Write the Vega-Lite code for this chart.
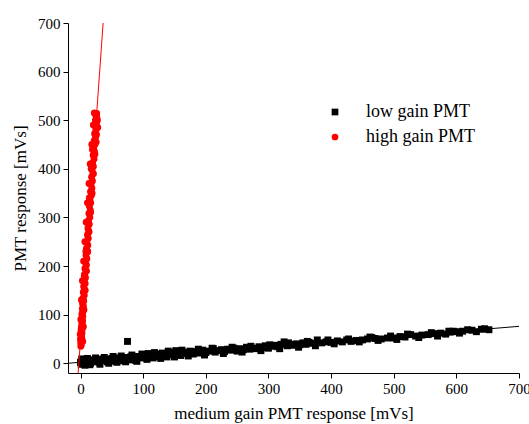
{
  "$schema": "https://vega.github.io/schema/vega-lite/v6.json",
  "width": 451,
  "height": 350,
  "autosize": {"type": "none"},
  "padding": {"left": 68, "top": 23, "right": 10, "bottom": 51},
  "background": "white",
  "config": {
    "view": {"stroke": null},
    "font": "Liberation Serif",
    "axis": {
      "domainColor": "black",
      "tickColor": "black",
      "grid": false,
      "labelFont": "Liberation Serif",
      "titleFont": "Liberation Serif",
      "labelFontSize": 15,
      "titleFontSize": 17,
      "labelColor": "black",
      "titleColor": "black",
      "titleFontWeight": "normal",
      "labelOverlap": false,
      "labelFlush": false
    },
    "legend": {
      "labelFont": "Liberation Serif",
      "labelFontSize": 18,
      "labelColor": "black"
    }
  },
  "datasets": {
    "pts": [
      {"series": "low gain PMT", "x": 0, "y": 2},
      {"series": "low gain PMT", "x": 1, "y": -2},
      {"series": "low gain PMT", "x": 2, "y": 5},
      {"series": "low gain PMT", "x": 3, "y": 0},
      {"series": "low gain PMT", "x": 4, "y": 3},
      {"series": "low gain PMT", "x": 5, "y": -1},
      {"series": "low gain PMT", "x": 6, "y": 4},
      {"series": "low gain PMT", "x": 8, "y": 1},
      {"series": "low gain PMT", "x": 10, "y": 5},
      {"series": "low gain PMT", "x": 12, "y": 2},
      {"series": "low gain PMT", "x": 14, "y": 6},
      {"series": "low gain PMT", "x": 16, "y": 0},
      {"series": "low gain PMT", "x": 18, "y": 4},
      {"series": "low gain PMT", "x": 20, "y": 7},
      {"series": "low gain PMT", "x": 22, "y": 3},
      {"series": "low gain PMT", "x": 25, "y": 5},
      {"series": "low gain PMT", "x": 28, "y": 8},
      {"series": "low gain PMT", "x": 30, "y": 2},
      {"series": "low gain PMT", "x": 33, "y": 6},
      {"series": "low gain PMT", "x": 36, "y": 9},
      {"series": "low gain PMT", "x": 40, "y": 5},
      {"series": "low gain PMT", "x": 43, "y": 3},
      {"series": "low gain PMT", "x": 46, "y": 8},
      {"series": "low gain PMT", "x": 50, "y": 10},
      {"series": "low gain PMT", "x": 53, "y": 6},
      {"series": "low gain PMT", "x": 56, "y": 4},
      {"series": "low gain PMT", "x": 60, "y": 11},
      {"series": "low gain PMT", "x": 63, "y": 8},
      {"series": "low gain PMT", "x": 66, "y": 5},
      {"series": "low gain PMT", "x": 70, "y": 12},
      {"series": "low gain PMT", "x": 73, "y": 9},
      {"series": "low gain PMT", "x": 75, "y": 45},
      {"series": "low gain PMT", "x": 78, "y": 7},
      {"series": "low gain PMT", "x": 80, "y": 13},
      {"series": "low gain PMT", "x": 84, "y": 10},
      {"series": "low gain PMT", "x": 88, "y": 6},
      {"series": "low gain PMT", "x": 92, "y": 14},
      {"series": "low gain PMT", "x": 96, "y": 11},
      {"series": "low gain PMT", "x": 100, "y": 16},
      {"series": "low gain PMT", "x": 104, "y": 12},
      {"series": "low gain PMT", "x": 108, "y": 20},
      {"series": "low gain PMT", "x": 112, "y": 15},
      {"series": "low gain PMT", "x": 116, "y": 11},
      {"series": "low gain PMT", "x": 120, "y": 18},
      {"series": "low gain PMT", "x": 125, "y": 14},
      {"series": "low gain PMT", "x": 130, "y": 21},
      {"series": "low gain PMT", "x": 134, "y": 17},
      {"series": "low gain PMT", "x": 138, "y": 13},
      {"series": "low gain PMT", "x": 142, "y": 22},
      {"series": "low gain PMT", "x": 147, "y": 18},
      {"series": "low gain PMT", "x": 152, "y": 26},
      {"series": "low gain PMT", "x": 156, "y": 19},
      {"series": "low gain PMT", "x": 160, "y": 16},
      {"series": "low gain PMT", "x": 165, "y": 23},
      {"series": "low gain PMT", "x": 170, "y": 20},
      {"series": "low gain PMT", "x": 175, "y": 25},
      {"series": "low gain PMT", "x": 180, "y": 19},
      {"series": "low gain PMT", "x": 185, "y": 24},
      {"series": "low gain PMT", "x": 190, "y": 21},
      {"series": "low gain PMT", "x": 195, "y": 27},
      {"series": "low gain PMT", "x": 200, "y": 22},
      {"series": "low gain PMT", "x": 205, "y": 25},
      {"series": "low gain PMT", "x": 210, "y": 31},
      {"series": "low gain PMT", "x": 215, "y": 23},
      {"series": "low gain PMT", "x": 220, "y": 26},
      {"series": "low gain PMT", "x": 225, "y": 28},
      {"series": "low gain PMT", "x": 230, "y": 24},
      {"series": "low gain PMT", "x": 235, "y": 29},
      {"series": "low gain PMT", "x": 240, "y": 27},
      {"series": "low gain PMT", "x": 245, "y": 31},
      {"series": "low gain PMT", "x": 250, "y": 25},
      {"series": "low gain PMT", "x": 255, "y": 30},
      {"series": "low gain PMT", "x": 260, "y": 28},
      {"series": "low gain PMT", "x": 265, "y": 33},
      {"series": "low gain PMT", "x": 270, "y": 29},
      {"series": "low gain PMT", "x": 275, "y": 31},
      {"series": "low gain PMT", "x": 280, "y": 30},
      {"series": "low gain PMT", "x": 285, "y": 34},
      {"series": "low gain PMT", "x": 290, "y": 32},
      {"series": "low gain PMT", "x": 295, "y": 36},
      {"series": "low gain PMT", "x": 300, "y": 31},
      {"series": "low gain PMT", "x": 305, "y": 35},
      {"series": "low gain PMT", "x": 310, "y": 37},
      {"series": "low gain PMT", "x": 315, "y": 34},
      {"series": "low gain PMT", "x": 320, "y": 39},
      {"series": "low gain PMT", "x": 325, "y": 44},
      {"series": "low gain PMT", "x": 330, "y": 36},
      {"series": "low gain PMT", "x": 335, "y": 39},
      {"series": "low gain PMT", "x": 340, "y": 37},
      {"series": "low gain PMT", "x": 345, "y": 40},
      {"series": "low gain PMT", "x": 350, "y": 38},
      {"series": "low gain PMT", "x": 355, "y": 42},
      {"series": "low gain PMT", "x": 360, "y": 39},
      {"series": "low gain PMT", "x": 365, "y": 43},
      {"series": "low gain PMT", "x": 370, "y": 41},
      {"series": "low gain PMT", "x": 378, "y": 48},
      {"series": "low gain PMT", "x": 385, "y": 42},
      {"series": "low gain PMT", "x": 392, "y": 44},
      {"series": "low gain PMT", "x": 400, "y": 43},
      {"series": "low gain PMT", "x": 410, "y": 46},
      {"series": "low gain PMT", "x": 418, "y": 44},
      {"series": "low gain PMT", "x": 425, "y": 48},
      {"series": "low gain PMT", "x": 432, "y": 45},
      {"series": "low gain PMT", "x": 440, "y": 47},
      {"series": "low gain PMT", "x": 450, "y": 48},
      {"series": "low gain PMT", "x": 458, "y": 50},
      {"series": "low gain PMT", "x": 465, "y": 53},
      {"series": "low gain PMT", "x": 470, "y": 51},
      {"series": "low gain PMT", "x": 480, "y": 50},
      {"series": "low gain PMT", "x": 490, "y": 52},
      {"series": "low gain PMT", "x": 500, "y": 52},
      {"series": "low gain PMT", "x": 510, "y": 55},
      {"series": "low gain PMT", "x": 518, "y": 54},
      {"series": "low gain PMT", "x": 527, "y": 59},
      {"series": "low gain PMT", "x": 535, "y": 56},
      {"series": "low gain PMT", "x": 545, "y": 58},
      {"series": "low gain PMT", "x": 555, "y": 59},
      {"series": "low gain PMT", "x": 565, "y": 61},
      {"series": "low gain PMT", "x": 575, "y": 62},
      {"series": "low gain PMT", "x": 583, "y": 60},
      {"series": "low gain PMT", "x": 590, "y": 64},
      {"series": "low gain PMT", "x": 595, "y": 66},
      {"series": "low gain PMT", "x": 600, "y": 65},
      {"series": "low gain PMT", "x": 610, "y": 66},
      {"series": "low gain PMT", "x": 625, "y": 68},
      {"series": "low gain PMT", "x": 640, "y": 70},
      {"series": "low gain PMT", "x": 652, "y": 69},
      {"series": "low gain PMT", "x": 2, "y": 9},
      {"series": "low gain PMT", "x": 7, "y": -4},
      {"series": "low gain PMT", "x": 11, "y": 10},
      {"series": "low gain PMT", "x": 15, "y": -3},
      {"series": "low gain PMT", "x": 24, "y": 11},
      {"series": "low gain PMT", "x": 31, "y": -2},
      {"series": "low gain PMT", "x": 38, "y": 12},
      {"series": "low gain PMT", "x": 45, "y": 0},
      {"series": "low gain PMT", "x": 52, "y": 14},
      {"series": "low gain PMT", "x": 58, "y": 2},
      {"series": "low gain PMT", "x": 65, "y": 15},
      {"series": "low gain PMT", "x": 72, "y": 3},
      {"series": "low gain PMT", "x": 82, "y": 17},
      {"series": "low gain PMT", "x": 90, "y": 4},
      {"series": "low gain PMT", "x": 98, "y": 19},
      {"series": "low gain PMT", "x": 106, "y": 8},
      {"series": "low gain PMT", "x": 118, "y": 22},
      {"series": "low gain PMT", "x": 128, "y": 10},
      {"series": "low gain PMT", "x": 140, "y": 25},
      {"series": "low gain PMT", "x": 150, "y": 13},
      {"series": "low gain PMT", "x": 162, "y": 27},
      {"series": "low gain PMT", "x": 172, "y": 15},
      {"series": "low gain PMT", "x": 188, "y": 29},
      {"series": "low gain PMT", "x": 198, "y": 17},
      {"series": "low gain PMT", "x": 212, "y": 30},
      {"series": "low gain PMT", "x": 228, "y": 20},
      {"series": "low gain PMT", "x": 242, "y": 33},
      {"series": "low gain PMT", "x": 258, "y": 23},
      {"series": "low gain PMT", "x": 272, "y": 35},
      {"series": "low gain PMT", "x": 288, "y": 26},
      {"series": "low gain PMT", "x": 302, "y": 38},
      {"series": "low gain PMT", "x": 318, "y": 30},
      {"series": "low gain PMT", "x": 332, "y": 42},
      {"series": "low gain PMT", "x": 348, "y": 33},
      {"series": "low gain PMT", "x": 362, "y": 45},
      {"series": "low gain PMT", "x": 375, "y": 36},
      {"series": "low gain PMT", "x": 395, "y": 48},
      {"series": "low gain PMT", "x": 405, "y": 40},
      {"series": "low gain PMT", "x": 428, "y": 50},
      {"series": "low gain PMT", "x": 445, "y": 44},
      {"series": "low gain PMT", "x": 462, "y": 54},
      {"series": "low gain PMT", "x": 475, "y": 47},
      {"series": "low gain PMT", "x": 495, "y": 56},
      {"series": "low gain PMT", "x": 505, "y": 49},
      {"series": "low gain PMT", "x": 522, "y": 60},
      {"series": "low gain PMT", "x": 540, "y": 53},
      {"series": "low gain PMT", "x": 560, "y": 63},
      {"series": "low gain PMT", "x": 570, "y": 56},
      {"series": "low gain PMT", "x": 588, "y": 66},
      {"series": "low gain PMT", "x": 605, "y": 62},
      {"series": "low gain PMT", "x": 618, "y": 69},
      {"series": "low gain PMT", "x": 632, "y": 65},
      {"series": "low gain PMT", "x": 645, "y": 71},
      {"series": "high gain PMT", "x": 0.5, "y": 35},
      {"series": "high gain PMT", "x": 1.2, "y": 38},
      {"series": "high gain PMT", "x": 0.3, "y": 42},
      {"series": "high gain PMT", "x": 1.8, "y": 45},
      {"series": "high gain PMT", "x": 0.6, "y": 48},
      {"series": "high gain PMT", "x": 2.0, "y": 52},
      {"series": "high gain PMT", "x": 0.9, "y": 55},
      {"series": "high gain PMT", "x": 1.5, "y": 58},
      {"series": "high gain PMT", "x": 2.3, "y": 62},
      {"series": "high gain PMT", "x": 1.1, "y": 66},
      {"series": "high gain PMT", "x": 2.6, "y": 70},
      {"series": "high gain PMT", "x": 1.4, "y": 75},
      {"series": "high gain PMT", "x": 3.0, "y": 80},
      {"series": "high gain PMT", "x": 2.0, "y": 84},
      {"series": "high gain PMT", "x": 3.3, "y": 88},
      {"series": "high gain PMT", "x": 1.9, "y": 92},
      {"series": "high gain PMT", "x": 3.6, "y": 97},
      {"series": "high gain PMT", "x": 2.4, "y": 102},
      {"series": "high gain PMT", "x": 4.0, "y": 107},
      {"series": "high gain PMT", "x": 2.9, "y": 112},
      {"series": "high gain PMT", "x": 4.5, "y": 118},
      {"series": "high gain PMT", "x": 3.2, "y": 123},
      {"series": "high gain PMT", "x": 5.1, "y": 128},
      {"series": "high gain PMT", "x": 3.9, "y": 134},
      {"series": "high gain PMT", "x": 6.0, "y": 140},
      {"series": "high gain PMT", "x": 4.4, "y": 146},
      {"series": "high gain PMT", "x": 6.5, "y": 152},
      {"series": "high gain PMT", "x": 5.0, "y": 158},
      {"series": "high gain PMT", "x": 7.4, "y": 164},
      {"series": "high gain PMT", "x": 5.8, "y": 170},
      {"series": "high gain PMT", "x": 7.9, "y": 176},
      {"series": "high gain PMT", "x": 6.3, "y": 182},
      {"series": "high gain PMT", "x": 8.6, "y": 189},
      {"series": "high gain PMT", "x": 7.0, "y": 195},
      {"series": "high gain PMT", "x": 9.4, "y": 202},
      {"series": "high gain PMT", "x": 8.0, "y": 208},
      {"series": "high gain PMT", "x": 10.1, "y": 215},
      {"series": "high gain PMT", "x": 8.7, "y": 222},
      {"series": "high gain PMT", "x": 10.9, "y": 229},
      {"series": "high gain PMT", "x": 9.5, "y": 236},
      {"series": "high gain PMT", "x": 11.6, "y": 243},
      {"series": "high gain PMT", "x": 10.1, "y": 250},
      {"series": "high gain PMT", "x": 12.4, "y": 257},
      {"series": "high gain PMT", "x": 11.0, "y": 264},
      {"series": "high gain PMT", "x": 13.2, "y": 271},
      {"series": "high gain PMT", "x": 11.8, "y": 278},
      {"series": "high gain PMT", "x": 14.0, "y": 286},
      {"series": "high gain PMT", "x": 12.5, "y": 293},
      {"series": "high gain PMT", "x": 14.8, "y": 300},
      {"series": "high gain PMT", "x": 13.4, "y": 308},
      {"series": "high gain PMT", "x": 15.6, "y": 315},
      {"series": "high gain PMT", "x": 14.2, "y": 323},
      {"series": "high gain PMT", "x": 16.3, "y": 330},
      {"series": "high gain PMT", "x": 15.0, "y": 338},
      {"series": "high gain PMT", "x": 17.2, "y": 345},
      {"series": "high gain PMT", "x": 15.9, "y": 353},
      {"series": "high gain PMT", "x": 18.1, "y": 360},
      {"series": "high gain PMT", "x": 16.8, "y": 368},
      {"series": "high gain PMT", "x": 19.0, "y": 375},
      {"series": "high gain PMT", "x": 17.6, "y": 383},
      {"series": "high gain PMT", "x": 19.8, "y": 390},
      {"series": "high gain PMT", "x": 18.4, "y": 398},
      {"series": "high gain PMT", "x": 20.5, "y": 405},
      {"series": "high gain PMT", "x": 19.3, "y": 412},
      {"series": "high gain PMT", "x": 21.6, "y": 420},
      {"series": "high gain PMT", "x": 20.1, "y": 428},
      {"series": "high gain PMT", "x": 22.3, "y": 435},
      {"series": "high gain PMT", "x": 21.0, "y": 442},
      {"series": "high gain PMT", "x": 23.1, "y": 450},
      {"series": "high gain PMT", "x": 21.8, "y": 458},
      {"series": "high gain PMT", "x": 23.9, "y": 465},
      {"series": "high gain PMT", "x": 22.5, "y": 472},
      {"series": "high gain PMT", "x": 24.5, "y": 480},
      {"series": "high gain PMT", "x": 23.3, "y": 488},
      {"series": "high gain PMT", "x": 25.6, "y": 495},
      {"series": "high gain PMT", "x": 23.8, "y": 500},
      {"series": "high gain PMT", "x": 26.0, "y": 505},
      {"series": "high gain PMT", "x": 24.5, "y": 510},
      {"series": "high gain PMT", "x": 25.8, "y": 514},
      {"series": "high gain PMT", "x": 3.5, "y": 45},
      {"series": "high gain PMT", "x": -0.5, "y": 60},
      {"series": "high gain PMT", "x": 4.5, "y": 75},
      {"series": "high gain PMT", "x": 0.5, "y": 90},
      {"series": "high gain PMT", "x": 5.5, "y": 110},
      {"series": "high gain PMT", "x": 1.5, "y": 130},
      {"series": "high gain PMT", "x": 7.5, "y": 150},
      {"series": "high gain PMT", "x": 3.0, "y": 170},
      {"series": "high gain PMT", "x": 9.5, "y": 190},
      {"series": "high gain PMT", "x": 5.0, "y": 210},
      {"series": "high gain PMT", "x": 11.5, "y": 230},
      {"series": "high gain PMT", "x": 7.0, "y": 250},
      {"series": "high gain PMT", "x": 13.5, "y": 270},
      {"series": "high gain PMT", "x": 9.0, "y": 290},
      {"series": "high gain PMT", "x": 16.0, "y": 310},
      {"series": "high gain PMT", "x": 11.0, "y": 330},
      {"series": "high gain PMT", "x": 18.5, "y": 350},
      {"series": "high gain PMT", "x": 13.5, "y": 370},
      {"series": "high gain PMT", "x": 20.5, "y": 390},
      {"series": "high gain PMT", "x": 15.5, "y": 410},
      {"series": "high gain PMT", "x": 23.0, "y": 430},
      {"series": "high gain PMT", "x": 18.0, "y": 450},
      {"series": "high gain PMT", "x": 25.5, "y": 470},
      {"series": "high gain PMT", "x": 20.5, "y": 490},
      {"series": "high gain PMT", "x": 27.0, "y": 500},
      {"series": "high gain PMT", "x": 22.0, "y": 515},
      {"series": "high gain PMT", "x": 27.5, "y": 485},
      {"series": "high gain PMT", "x": 19.0, "y": 440},
      {"series": "high gain PMT", "x": 25.0, "y": 455},
      {"series": "high gain PMT", "x": 17.0, "y": 400},
      {"series": "high gain PMT", "x": 14.0, "y": 340},
      {"series": "high gain PMT", "x": 8.5, "y": 230},
      {"series": "high gain PMT", "x": 6.0, "y": 180},
      {"series": "high gain PMT", "x": 2.5, "y": 100},
      {"series": "high gain PMT", "x": 1.0, "y": 70},
      {"series": "high gain PMT", "x": 0.0, "y": 50}
    ],
    "fits": [
      {"series": "low gain PMT", "x": -20, "y": 0},
      {"series": "low gain PMT", "x": 700, "y": 76},
      {"series": "high gain PMT", "x": -3.8, "y": -20},
      {"series": "high gain PMT", "x": 36.1, "y": 700}
    ]
  },
  "layer": [
    {
      "data": {"name": "pts"},
      "mark": {"type": "point", "filled": true, "opacity": 1, "size": 48},
      "encoding": {
        "x": {
          "field": "x", "type": "quantitative",
          "scale": {"domain": [-20, 700], "nice": false, "zero": false},
          "axis": {
            "title": "medium gain PMT response [mVs]",
            "values": [0, 50, 100, 150, 200, 250, 300, 350, 400, 450, 500, 550, 600, 650, 700],
            "labelExpr": "datum.value % 100 === 0 ? datum.label : ''",
            "tickSize": {"condition": {"test": "datum.value % 100 === 0", "value": 5}, "value": 3},
            "labelPadding": 3,
            "titlePadding": 9
          }
        },
        "y": {
          "field": "y", "type": "quantitative",
          "scale": {"domain": [-20, 700], "nice": false, "zero": false},
          "axis": {
            "title": "PMT response [mVs]",
            "values": [0, 50, 100, 150, 200, 250, 300, 350, 400, 450, 500, 550, 600, 650, 700],
            "labelExpr": "datum.value % 100 === 0 ? datum.label : ''",
            "tickSize": {"condition": {"test": "datum.value % 100 === 0", "value": 5}, "value": 3},
            "labelPadding": 3,
            "titlePadding": 8
          }
        },
        "color": {
          "field": "series", "type": "nominal",
          "scale": {"domain": ["low gain PMT", "high gain PMT"], "range": ["black", "red"]},
          "legend": {
            "title": null,
            "orient": "none",
            "legendX": 258,
            "legendY": 80,
            "symbolSize": 45,
            "labelOffset": 22,
            "rowPadding": 7,
            "padding": 0,
            "symbolStrokeWidth": 0
          }
        },
        "shape": {
          "field": "series", "type": "nominal",
          "scale": {"domain": ["low gain PMT", "high gain PMT"], "range": ["square", "circle"]}
        }
      }
    },
    {
      "data": {"name": "fits"},
      "mark": {"type": "line", "strokeWidth": 1, "clip": true},
      "encoding": {
        "x": {"field": "x", "type": "quantitative"},
        "y": {"field": "y", "type": "quantitative"},
        "detail": {"field": "series", "type": "nominal"},
        "color": {"field": "series", "type": "nominal", "legend": null}
      }
    }
  ]
}
